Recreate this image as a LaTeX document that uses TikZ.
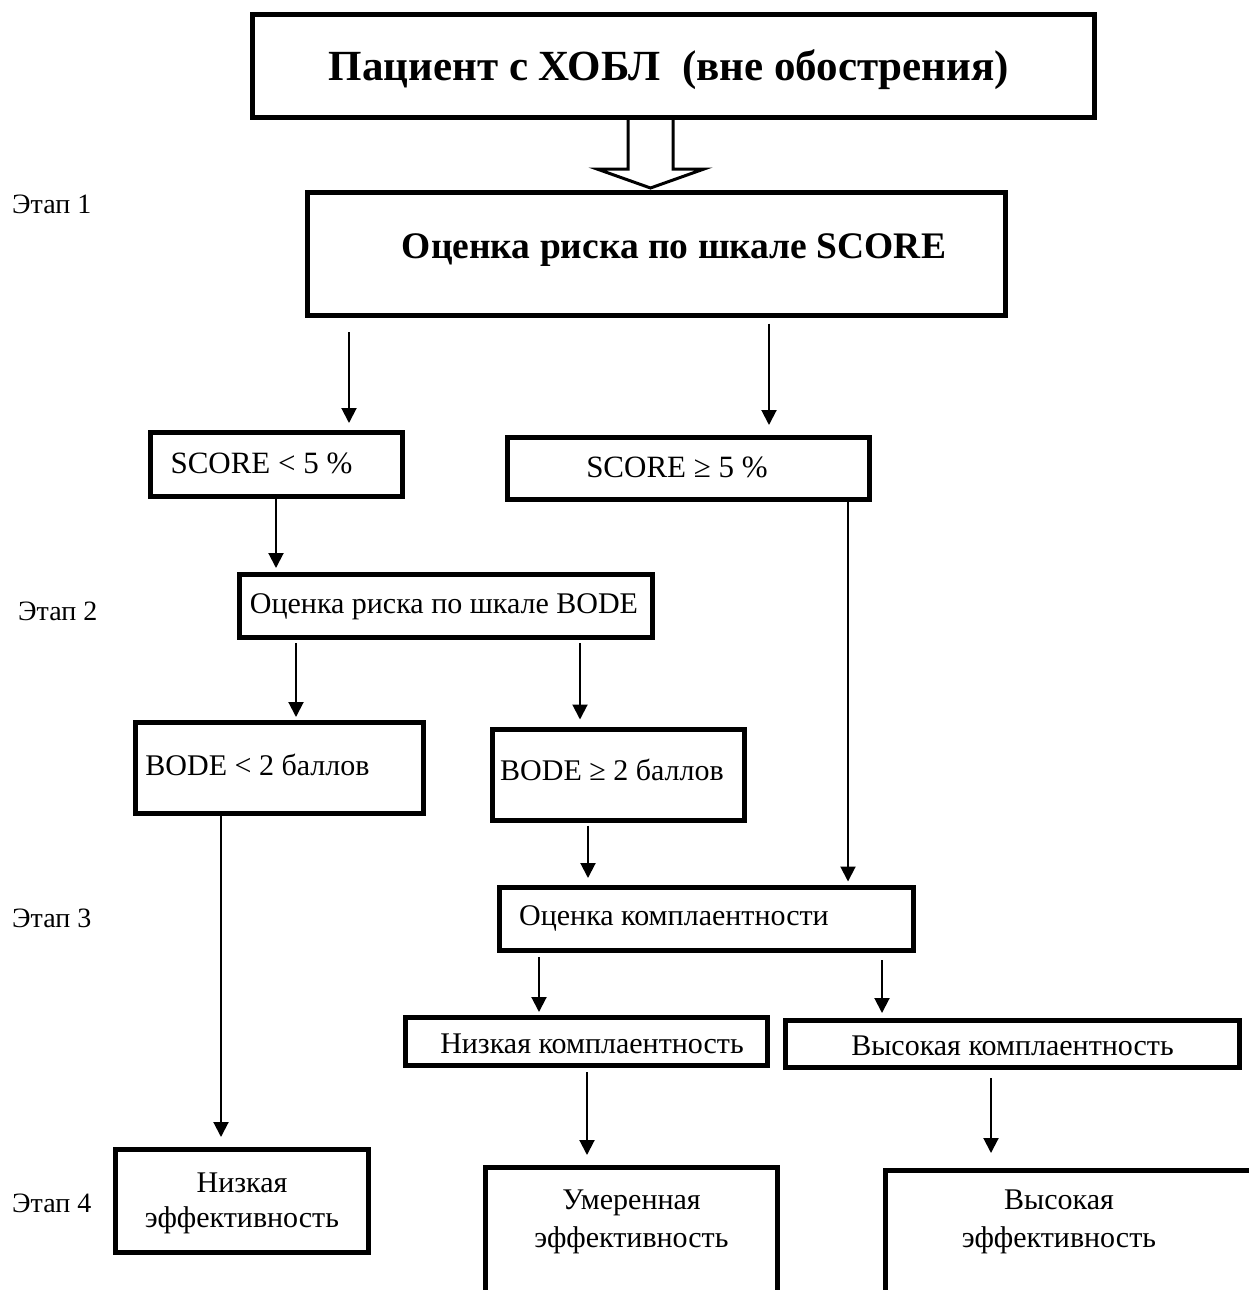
\documentclass[tikz,border=0pt]{standalone}
\usepackage{fontspec}
\setmainfont{Liberation Serif}
\usetikzlibrary{arrows.meta,calc}
\tikzset{
  box/.style={draw, line width=5pt, inner sep=0pt, outer sep=0pt, text depth=0pt,
    font=\fontsize{30}{35}\selectfont, align=center},
  scorebox/.style={box, font=\fontsize{31}{35}\selectfont},
  bigbox/.style={box, font=\bfseries\fontsize{37.5}{44}\selectfont},
  conn/.style={line width=2pt, -{Triangle[length=15pt,width=15pt]}},
  hollow/.style={line width=3pt, miter limit=10},
  stage/.style={anchor=base west, inner sep=0pt, font=\fontsize{28}{32}\selectfont},
}
\begin{document}
\begin{tikzpicture}[x=1pt,y=-1pt]
\useasboundingbox (0,0) rectangle (1249,1290);
\clip (0,0) rectangle (1249,1290);

% boxes
\node[bigbox, minimum width=842pt, minimum height=103pt, text height=30pt,
  font=\bfseries\fontsize{43}{48}\selectfont] (top) at (673.5,66)
  {Пациент с ХОБЛ~ (вне обострения)\hspace*{9pt}};
\node[bigbox, minimum width=698pt, minimum height=123pt, text height=8pt] (sc) at (656.5,254)
  {\hspace*{35pt}Оценка риска по шкале SCORE};
\node[scorebox, minimum width=252pt, minimum height=64pt, text height=18pt] (slo) at (276.5,464)
  {SCORE < 5 \%\hspace*{30pt}};
\node[scorebox, minimum width=362pt, minimum height=62pt, text height=17pt] (shi) at (688.5,468.5)
  {SCORE ≥ 5 \%\hspace*{23pt}};
\node[box, minimum width=413pt, minimum height=63pt, text height=14pt] (bode) at (446,606)
  {Оценка риска по шкале BODE\hspace*{4pt}};
\node[box, minimum width=288pt, minimum height=91pt, text height=15pt] (blo) at (279.5,767.5)
  {BODE < 2 баллов\hspace*{44pt}};
\node[box, minimum width=252pt, minimum height=91pt, text height=10pt] (bhi) at (618.5,775)
  {BODE ≥ 2 баллов\hspace*{13pt}};
\node[box, minimum width=414pt, minimum height=63pt, text height=12pt] (comp) at (706.5,919)
  {Оценка комплаентности\hspace*{65pt}};
\node[box, minimum width=362pt, minimum height=48pt, text height=24pt] (clo) at (586.5,1041)
  {\hspace*{11pt}Низкая комплаентность};
\node[box, minimum width=454pt, minimum height=47pt, text height=23pt] (chi) at (1012.5,1043.5)
  {Высокая комплаентность};
\node[box, minimum width=253pt, minimum height=103pt, text height=52pt] (elo) at (242,1201)
  {Низкая\\эффективность};
\node[box, minimum width=292pt, minimum height=152.5pt, text height=6.5pt,
  font=\fontsize{30}{38}\selectfont] (emid) at (631.5,1243.75)
  {Умеренная\\эффективность};
\node[box, minimum width=414.5pt, minimum height=149.5pt, text height=3.5pt,
  font=\fontsize{30}{38}\selectfont] (ehi) at (1092.75,1245.25)
  {Высокая\hspace*{67.5pt}\\эффективность\hspace*{67.5pt}};

% stage labels
\node[stage] (s1) at (12,213) {Этап 1};
\node[stage] (s2) at (18,620) {Этап 2};
\node[stage] (s3) at (12,927) {Этап 3};
\node[stage] (s4) at (12,1212) {Этап 4};

% hollow arrow
\coordinate (ha) at (650.5,0);
\draw[hollow] ($(top.south -| ha)+(-22.5,2.5)$) -- ++(0,49) -- ++(-31,0)
  -- ($(sc.north -| ha)+(0,-4.5)$) -- ++(53.5,-19) -- ++(-31,0) -- ++(0,-49);

% arrow columns
\coordinate (x1) at (349,0);
\coordinate (x2) at (769,0);
\coordinate (x3) at (276,0);
\coordinate (x4) at (296,0);
\coordinate (x5) at (580,0);
\coordinate (x6) at (848,0);
\coordinate (x7) at (588,0);
\coordinate (x8) at (221,0);
\coordinate (x9) at (539,0);
\coordinate (x10) at (882,0);
\coordinate (x11) at (587,0);
\coordinate (x12) at (991,0);

\draw[conn, shorten <=16.5pt, shorten >=9pt] (sc.south -| x1) -- (slo.north -| x1);
\draw[conn, shorten <=8pt, shorten >=12.5pt] (sc.south -| x2) -- (shi.north -| x2);
\draw[conn, shorten >=6.5pt] (slo.south -| x3) -- (bode.north -| x3);
\draw[conn, shorten <=5.5pt, shorten >=5pt] (bode.south -| x4) -- (blo.north -| x4);
\draw[conn, shorten <=5.5pt, shorten >=10pt] (bode.south -| x5) -- (bhi.north -| x5);
\draw[conn, shorten >=6pt] (shi.south -| x6) -- (comp.north -| x6);
\draw[conn, shorten <=5pt, shorten >=9.5pt] (bhi.south -| x7) -- (comp.north -| x7);
\draw[conn, shorten >=12.5pt] (blo.south -| x8) -- (elo.north -| x8);
\draw[conn, shorten <=6.5pt, shorten >=5pt] (comp.south -| x9) -- (clo.north -| x9);
\draw[conn, shorten <=9.5pt, shorten >=7pt] (comp.south -| x10) -- (chi.north -| x10);
\draw[conn, shorten <=7pt, shorten >=12.5pt] (clo.south -| x11) -- (emid.north -| x11);
\draw[conn, shorten <=11pt, shorten >=17.5pt] (chi.south -| x12) -- (ehi.north -| x12);
\end{tikzpicture}
\end{document}
